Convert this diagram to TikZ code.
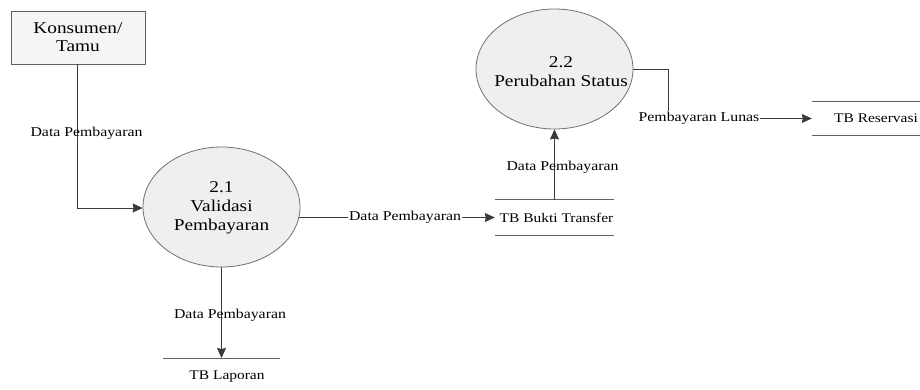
\documentclass[tikz,border=0pt]{standalone}
\usepackage{fontspec}
\setmainfont{Liberation Serif}
\usetikzlibrary{arrows.meta,shapes.geometric}
\newcommand{\sx}[1]{\scalebox{1.17}[1]{#1}}
\definecolor{linec}{HTML}{3A3A3A}
\definecolor{procfill}{HTML}{EFEFEF}
\definecolor{procdraw}{HTML}{707070}
\tikzset{
  proc/.style={ellipse, draw=procdraw, fill=procfill, line width=0.8pt, minimum width=157pt, minimum height=120pt, inner sep=0pt},
  proctext/.style={align=center, inner sep=0pt, font=\fontsize{16.5}{19}\selectfont},
  ext/.style={rectangle, draw=linec!80, fill=procfill!60, line width=0.8pt, minimum width=134pt, minimum height=53pt, inner sep=0pt, align=center, font=\fontsize{16.5}{18}\selectfont},
  store/.style={rectangle, inner sep=0pt, font=\fontsize{13.2}{15}\selectfont},
  storeline/.style={draw=linec!80, line width=0.8pt},
  lbl/.style={inner sep=1pt, font=\fontsize{13.5}{15}\selectfont},
  lblw/.style={lbl, fill=white},
  flow/.style={draw=linec, line width=0.8pt, -{Stealth[length=10pt,width=9pt,inset=1pt]}},
}
\begin{document}
\begin{tikzpicture}[x=1pt,y=-1pt]
\useasboundingbox (0,0) rectangle (920,389);
% nodes
\node[ext] (K) at (78,37.5) {\sx{Konsumen/}\\\sx{Tamu}};
\node[proc] (V) at (221.5,207) {};
\node[proctext] (Vt) at (221.5,208) {\sx{2.1}\\\sx{Validasi}\\\sx{Pembayaran}};
\node[proc] (P) at (554.5,69) {};
\node[proctext] (Pt) at (561,72) {\sx{2.2}\\\sx{Perubahan Status}};
\node[store, minimum width=119pt, minimum height=35pt] (B) at (554.5,217.5) {\hspace{4pt}\sx{TB Bukti Transfer}};
\node[store, minimum width=128pt, minimum height=33pt] (R) at (876,118.5) {\sx{TB Reservasi}};
\node[store] (L) at (227,377) {\sx{TB Laporan}};
\coordinate (Ltl) at (163,358);
\coordinate (Ltr) at (280,358);
% store lines
\draw[storeline] (B.north west) -- (B.north east);
\draw[storeline] (B.south west) -- (B.south east);
\draw[storeline] (R.north west) -- (R.north east);
\draw[storeline] (R.south west) -- (R.south east);
\draw[storeline] (Ltl) -- (Ltr);
% flows
\coordinate (k1) at (77,208);
\draw[flow] (K.south -| k1) -- (k1) -- (V.west |- k1);
\node[lbl] (l1) at (86.5,133) {\sx{Data Pembayaran}};
\draw[flow] (B.west -| V.east) ++(-1,0) -- (B.west);
\node[lblw] (l2) at (405,217.5) {\sx{Data Pembayaran}};
\draw[flow] (V.south) -- (V.south |- Ltl);
\node[lbl] (l3) at (230,315) {\sx{Data Pembayaran}};
\draw[flow] (B.north) -- (P.south);
\node[lbl] (l4) at (562.5,167) {\sx{Data Pembayaran}};
\coordinate (c1) at (668,118.5);
\draw[flow] (P.east) -| (c1) -- (R.west);
\node[lblw] (l5) at (699,118.5) {\sx{Pembayaran Lunas}};
\end{tikzpicture}
\end{document}
